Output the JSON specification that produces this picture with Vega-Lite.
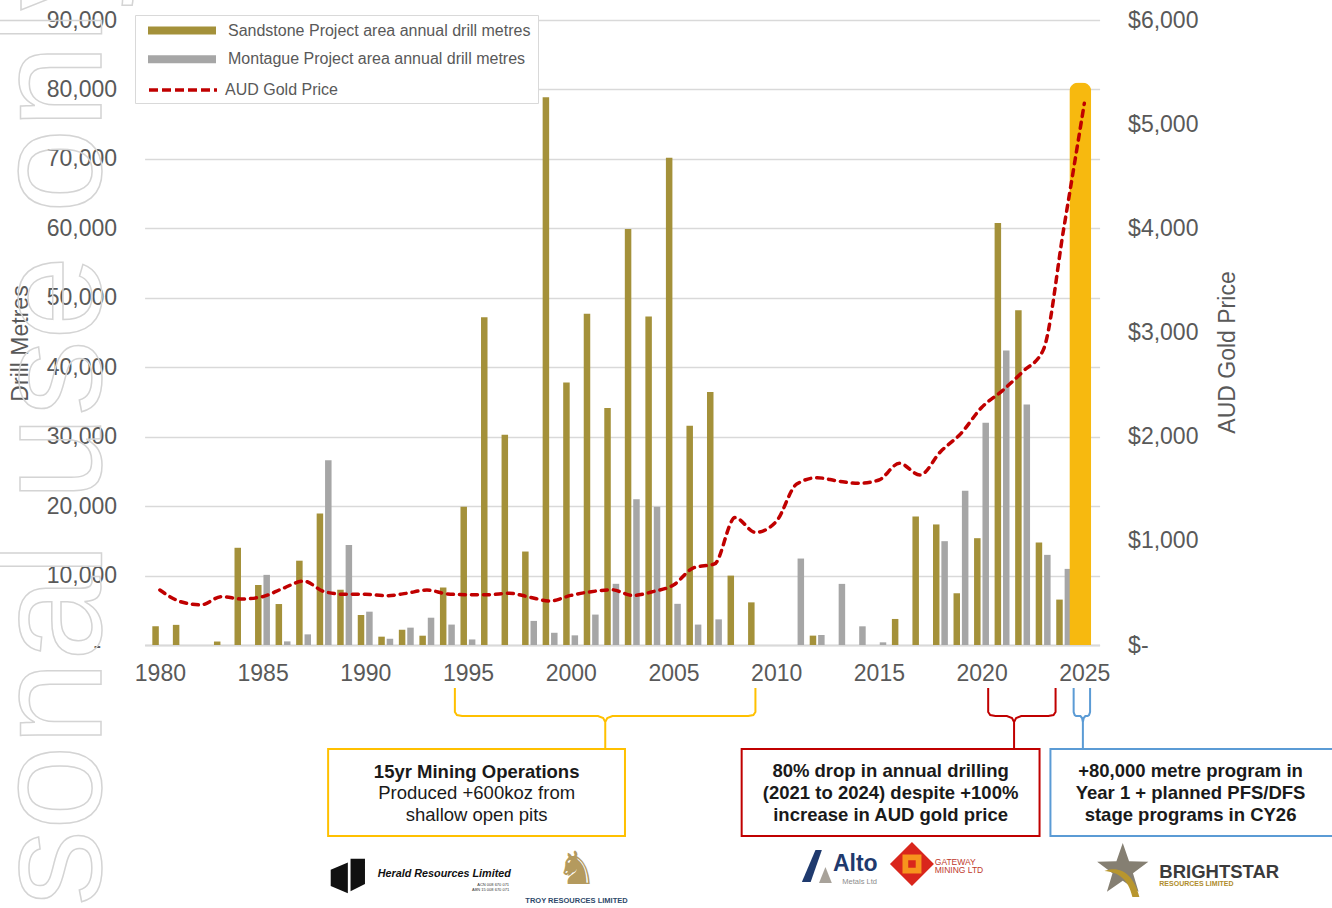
{
  "$schema": "https://vega.github.io/schema/vega-lite/v6.json",
  "width": 955,
  "height": 625,
  "autosize": "none",
  "padding": {"left": 144.6, "top": 20, "right": 232.4, "bottom": 263},
  "background": "white",
  "config": {"font": "Liberation Sans", "view": {"stroke": null}},
  "datasets": {
    "sand": [{"yr":1980,"m":2700},{"yr":1981,"m":2900},{"yr":1983,"m":500},{"yr":1984,"m":14000},{"yr":1985,"m":8640},{"yr":1986,"m":5900},{"yr":1987,"m":12140},{"yr":1988,"m":18950},{"yr":1989,"m":7960},{"yr":1990,"m":4320},{"yr":1991,"m":1200},{"yr":1992,"m":2200},{"yr":1993,"m":1340},{"yr":1994,"m":8280},{"yr":1995,"m":19920},{"yr":1996,"m":47210},{"yr":1997,"m":30280},{"yr":1998,"m":13460},{"yr":1999,"m":78880},{"yr":2000,"m":37810},{"yr":2001,"m":47690},{"yr":2002,"m":34130},{"yr":2003,"m":59920},{"yr":2004,"m":47320},{"yr":2005,"m":70170},{"yr":2006,"m":31560},{"yr":2007,"m":36420},{"yr":2008,"m":9990},{"yr":2009,"m":6140},{"yr":2012,"m":1350},{"yr":2016,"m":3750},{"yr":2017,"m":18510},{"yr":2018,"m":17360},{"yr":2019,"m":7450},{"yr":2020,"m":15380},{"yr":2021,"m":60770},{"yr":2022,"m":48220},{"yr":2023,"m":14760},{"yr":2024,"m":6540}],
    "mont": [{"yr":1985,"m":10100},{"yr":1986,"m":520},{"yr":1987,"m":1530},{"yr":1988,"m":26600},{"yr":1989,"m":14400},{"yr":1990,"m":4800},{"yr":1991,"m":900},{"yr":1992,"m":2500},{"yr":1993,"m":3930},{"yr":1994,"m":2940},{"yr":1995,"m":800},{"yr":1998,"m":3470},{"yr":1999,"m":1760},{"yr":2000,"m":1390},{"yr":2001,"m":4380},{"yr":2002,"m":8810},{"yr":2003,"m":20990},{"yr":2004,"m":19920},{"yr":2005,"m":5930},{"yr":2006,"m":2940},{"yr":2007,"m":3690},{"yr":2011,"m":12450},{"yr":2012,"m":1440},{"yr":2013,"m":8800},{"yr":2014,"m":2690},{"yr":2015,"m":385},{"yr":2018,"m":14950},{"yr":2019,"m":22210},{"yr":2020,"m":32020},{"yr":2021,"m":42400},{"yr":2022,"m":34620},{"yr":2023,"m":12980},{"yr":2024,"m":10960}],
    "plan": [{"yr":2025,"m":81000}],
    "gold": [{"yr":1980,"p":528},{"yr":1981,"p":416},{"yr":1982,"p":385},{"yr":1983,"p":464},{"yr":1984,"p":442},{"yr":1985,"p":464},{"yr":1986,"p":544},{"yr":1987,"p":614},{"yr":1988,"p":512},{"yr":1989,"p":487},{"yr":1990,"p":487},{"yr":1991,"p":473},{"yr":1992,"p":496},{"yr":1993,"p":528},{"yr":1994,"p":490},{"yr":1995,"p":483},{"yr":1996,"p":483},{"yr":1997,"p":497},{"yr":1998,"p":459},{"yr":1999,"p":422},{"yr":2000,"p":476},{"yr":2001,"p":512},{"yr":2002,"p":530},{"yr":2003,"p":476},{"yr":2004,"p":512},{"yr":2005,"p":576},{"yr":2006,"p":743},{"yr":2007,"p":778},{"yr":2008,"p":1223},{"yr":2009,"p":1081},{"yr":2010,"p":1185},{"yr":2011,"p":1545},{"yr":2012,"p":1606},{"yr":2013,"p":1574},{"yr":2014,"p":1552},{"yr":2015,"p":1584},{"yr":2016,"p":1744},{"yr":2017,"p":1632},{"yr":2018,"p":1856},{"yr":2019,"p":2032},{"yr":2020,"p":2280},{"yr":2021,"p":2440},{"yr":2022,"p":2624},{"yr":2023,"p":2832},{"yr":2024,"p":4000},{"yr":2025,"p":5200}],
    "box": [
      {"b":"a","yr":1988.19,"yr2":2002.64,"m":-14976,"m2":-27504},
      {"b":"b","yr":2008.32,"yr2":2022.82,"m":-14976,"m2":-27504},
      {"b":"c","yr":2023.35,"yr2":2040,"m":-14976,"m2":-27504}
    ],
    "brk": [
      {"b":"a","o":1,"yr":1994.36,"m":-6192},{"b":"a","o":2,"yr":1994.36,"m":-9648},{"b":"a","o":3,"yr":1994.46,"m":-10080},{"b":"a","o":4,"yr":1994.71,"m":-10224},{"b":"a","o":5,"yr":2001.33,"m":-10224},{"b":"a","o":6,"yr":2001.58,"m":-10512},{"b":"a","o":7,"yr":2001.68,"m":-11088},{"b":"a","o":8,"yr":2001.68,"m":-14832},{"b":"a","o":9,"yr":2001.68,"m":-11088},{"b":"a","o":10,"yr":2001.78,"m":-10512},{"b":"a","o":11,"yr":2002.03,"m":-10224},{"b":"a","o":12,"yr":2008.64,"m":-10224},{"b":"a","o":13,"yr":2008.89,"m":-10080},{"b":"a","o":14,"yr":2008.99,"m":-9648},{"b":"a","o":15,"yr":2008.99,"m":-6192},
      {"b":"b","o":1,"yr":2020.32,"m":-6192},{"b":"b","o":2,"yr":2020.32,"m":-9648},{"b":"b","o":3,"yr":2020.42,"m":-10080},{"b":"b","o":4,"yr":2020.67,"m":-10224},{"b":"b","o":5,"yr":2021.23,"m":-10224},{"b":"b","o":6,"yr":2021.48,"m":-10512},{"b":"b","o":7,"yr":2021.58,"m":-11088},{"b":"b","o":8,"yr":2021.58,"m":-14832},{"b":"b","o":9,"yr":2021.58,"m":-11088},{"b":"b","o":10,"yr":2021.68,"m":-10512},{"b":"b","o":11,"yr":2021.93,"m":-10224},{"b":"b","o":12,"yr":2023.25,"m":-10224},{"b":"b","o":13,"yr":2023.50,"m":-10080},{"b":"b","o":14,"yr":2023.60,"m":-9648},{"b":"b","o":15,"yr":2023.60,"m":-6192},
      {"b":"c","o":1,"yr":2024.48,"m":-6192},{"b":"c","o":2,"yr":2024.48,"m":-9648},{"b":"c","o":3,"yr":2024.53,"m":-10080},{"b":"c","o":4,"yr":2024.60,"m":-10224},{"b":"c","o":5,"yr":2024.81,"m":-10224},{"b":"c","o":6,"yr":2024.89,"m":-10512},{"b":"c","o":7,"yr":2024.93,"m":-11088},{"b":"c","o":8,"yr":2024.93,"m":-14832},{"b":"c","o":9,"yr":2024.93,"m":-11088},{"b":"c","o":10,"yr":2024.97,"m":-10512},{"b":"c","o":11,"yr":2025.05,"m":-10224},{"b":"c","o":12,"yr":2025.16,"m":-10224},{"b":"c","o":13,"yr":2025.23,"m":-10080},{"b":"c","o":14,"yr":2025.28,"m":-9648},{"b":"c","o":15,"yr":2025.28,"m":-6192}
    ],
    "boxb": [
      {"yr":1995.42,"m":-18216,"t":"15yr Mining Operations"},
      {"yr":2015.57,"m":-18144,"t":"80% drop in annual drilling"},
      {"yr":2015.57,"m":-21312,"t":"(2021 to 2024) despite +100%"},
      {"yr":2015.57,"m":-24480,"t":"increase in AUD gold price"},
      {"yr":2030.17,"m":-18144,"t":"+80,000 metre program in"},
      {"yr":2030.17,"m":-21312,"t":"Year 1 + planned PFS/DFS"},
      {"yr":2030.17,"m":-24480,"t":"stage programs in CY26"}
    ],
    "boxn": [
      {"yr":1995.42,"m":-21312,"t":"Produced +600koz from"},
      {"yr":1995.42,"m":-24480,"t":"shallow open pits"}
    ],
    "logo": [
      {"k":"herald","yr":1989.15,"m":-33264},
      {"k":"altoA","yr":2012.03,"m":-31824},
      {"k":"altoB","yr":2012.32,"m":-33120},
      {"k":"gw","yr":2016.61,"m":-31536},
      {"k":"star","yr":2026.87,"m":-32400},
      {"k":"swoosh","yr":2026.95,"m":-33400}
    ],
    "ltxt": [
      {"k":"herald","yr":1990.60,"m":-32976,"t":"Herald Resources Limited"},
      {"k":"acn","yr":1997.0,"m":-34560,"t":"ACN 008 670 071"},
      {"k":"acn","yr":1997.0,"m":-35280,"t":"ABN 15 008 670 071"},
      {"k":"horse","yr":2000.28,"m":-32400,"t":"♞"},
      {"k":"troy","yr":2000.28,"m":-36864,"t":"TROY RESOURCES LIMITED"},
      {"k":"alto","yr":2012.76,"m":-31536,"t":"Alto"},
      {"k":"metals","yr":2014.06,"m":-34128,"t":"Metals Ltd"},
      {"k":"gwt","yr":2017.72,"m":-31248,"t":"GATEWAY"},
      {"k":"gwt","yr":2017.72,"m":-32400,"t":"MINING LTD"},
      {"k":"bs","yr":2028.65,"m":-32688,"t":"BRIGHTSTAR"},
      {"k":"rl","yr":2028.65,"m":-34416,"t":"RESOURCES LIMITED"}
    ],
    "wm": [{"yr":1977.11,"m":-108144,"t":"For personal use only"}]
  },
  "layer": [
    {
      "layer": [
        {
          "data": {"name": "sand"},
          "mark": {"type": "bar", "orient": "vertical", "width": 6.5, "xOffset": -4.3},
          "encoding": {
            "x": {"field": "yr", "type": "quantitative", "scale": {"domain": [1979.5, 2025.5], "nice": false, "zero": false},
              "axis": {"title": null, "values": [1980,1985,1990,1995,2000,2005,2010,2015,2020,2025], "format": "d", "labelFontSize": 23, "labelColor": "#595959", "labelPadding": 17, "labelFlush": false, "labelOverlap": false, "ticks": false, "grid": false, "domainColor": "#d9d9d9", "domainWidth": 2}},
            "y": {"field": "m", "type": "quantitative", "scale": {"domain": [0, 90000], "nice": false, "zero": false},
              "axis": {"title": "Drill Metres", "values": [0,10000,20000,30000,40000,50000,60000,70000,80000,90000], "labelExpr": "datum.value == 0 ? '-' : format(datum.value, ',')", "labelFontSize": 23, "labelColor": "#595959", "labelPadding": {"condition": {"test": "datum.value == 0", "value": 44}, "value": 28}, "ticks": false, "domain": false, "grid": true, "gridColor": "#d9d9d9", "gridWidth": 1.5, "titleFontSize": 23, "titleFontWeight": "normal", "titleColor": "#595959", "titleAngle": 270, "titleX": -117.6, "titleY": 323, "titleBaseline": "alphabetic", "titleAlign": "center"}},
            "color": {"datum": "Sandstone Project area annual drill metres", "type": "nominal",
              "scale": {"domain": ["Sandstone Project area annual drill metres", "Montague Project area annual drill metres", " "], "range": ["#A4913A", "#A6A6A6", "transparent"]},
              "legend": {"orient": "none", "legendX": -9.6, "legendY": -5, "title": null, "symbolType": "M-4,-0.47H4V0.47H-4Z", "symbolSize": 289, "symbolOffset": 31.5, "symbolStrokeWidth": 0, "symbolOpacity": 1, "labelFontSize": 16, "labelColor": "#595959", "labelOffset": 37.5, "labelLimit": 500, "padding": 7, "rowPadding": 11.75, "fillColor": "white", "strokeColor": "#d9d9d9"}}
          }
        },
        {
          "data": {"name": "mont"},
          "mark": {"type": "bar", "orient": "vertical", "width": 6.5, "xOffset": 4.1},
          "encoding": {
            "x": {"field": "yr", "type": "quantitative"},
            "y": {"field": "m", "type": "quantitative"},
            "color": {"datum": "Montague Project area annual drill metres", "type": "nominal"}
          }
        },
        {
          "data": {"name": "plan"},
          "mark": {"type": "bar", "orient": "vertical", "width": 22, "xOffset": -4, "color": "#F7B90F", "cornerRadiusTopLeft": 9, "cornerRadiusTopRight": 9},
          "encoding": {
            "x": {"field": "yr", "type": "quantitative"},
            "y": {"field": "m", "type": "quantitative"}
          }
        },
        {
          "data": {"name": "box"},
          "mark": {"type": "rect", "fill": "white", "strokeWidth": 2},
          "encoding": {
            "x": {"field": "yr", "type": "quantitative"},
            "x2": {"field": "yr2"},
            "y": {"field": "m", "type": "quantitative"},
            "y2": {"field": "m2"},
            "stroke": {"field": "b", "type": "nominal", "scale": {"domain": ["a", "b", "c"], "range": ["#FFC000", "#C00000", "#5B9BD5"]}, "legend": null}
          }
        },
        {
          "data": {"name": "brk"},
          "mark": {"type": "line", "strokeWidth": 2, "interpolate": "linear"},
          "encoding": {
            "x": {"field": "yr", "type": "quantitative"},
            "y": {"field": "m", "type": "quantitative"},
            "stroke": {"field": "b", "type": "nominal", "legend": null},
            "order": {"field": "o", "type": "quantitative"}
          }
        },
        {
          "data": {"name": "boxb"},
          "mark": {"type": "text", "fontSize": 18.5, "fontWeight": "bold", "color": "#1a1a1a", "align": "center", "baseline": "middle"},
          "encoding": {
            "x": {"field": "yr", "type": "quantitative"},
            "y": {"field": "m", "type": "quantitative"},
            "text": {"field": "t"}
          }
        },
        {
          "data": {"name": "boxn"},
          "mark": {"type": "text", "fontSize": 18.5, "color": "#1a1a1a", "align": "center", "baseline": "middle"},
          "encoding": {
            "x": {"field": "yr", "type": "quantitative"},
            "y": {"field": "m", "type": "quantitative"},
            "text": {"field": "t"}
          }
        },
        {
          "data": {"name": "logo"},
          "transform": [{"filter": "datum.k == 'herald'"}],
          "mark": {"type": "point", "filled": true, "opacity": 1, "color": "#111111", "size": 1300, "shape": "M-0.95,-0.35L0.0,-0.75L0.0,0.95L-0.95,0.55Z M0.15,-0.95L0.95,-0.95L0.95,0.45L0.15,0.85Z"},
          "encoding": {"x": {"field": "yr", "type": "quantitative"}, "y": {"field": "m", "type": "quantitative"}}
        },
        {
          "data": {"name": "logo"},
          "transform": [{"filter": "datum.k == 'altoA'"}],
          "mark": {"type": "point", "filled": true, "opacity": 1, "color": "#1F3A6E", "size": 1024, "shape": "M-1,1L-0.15,-1L0.25,-1L-0.45,1Z"},
          "encoding": {"x": {"field": "yr", "type": "quantitative"}, "y": {"field": "m", "type": "quantitative"}}
        },
        {
          "data": {"name": "logo"},
          "transform": [{"filter": "datum.k == 'altoB'"}],
          "mark": {"type": "point", "filled": true, "opacity": 1, "color": "#A8A29A", "size": 256, "shape": "M-0.6,1L0.2,-1L1,1Z"},
          "encoding": {"x": {"field": "yr", "type": "quantitative"}, "y": {"field": "m", "type": "quantitative"}}
        },
        {
          "data": {"name": "logo"},
          "transform": [{"filter": "datum.k == 'gw'"}],
          "mark": {"type": "point", "filled": true, "opacity": 1, "color": "#D9261C", "size": 1936, "shape": "M0,-1L1,0L0,1L-1,0Z"},
          "encoding": {"x": {"field": "yr", "type": "quantitative"}, "y": {"field": "m", "type": "quantitative"}}
        },
        {
          "data": {"name": "logo"},
          "transform": [{"filter": "datum.k == 'gw'"}],
          "mark": {"type": "point", "filled": true, "opacity": 1, "color": "#F7941D", "size": 360, "shape": "square"},
          "encoding": {"x": {"field": "yr", "type": "quantitative"}, "y": {"field": "m", "type": "quantitative"}}
        },
        {
          "data": {"name": "logo"},
          "transform": [{"filter": "datum.k == 'gw'"}],
          "mark": {"type": "point", "filled": true, "opacity": 1, "color": "#D9261C", "size": 56, "shape": "square"},
          "encoding": {"x": {"field": "yr", "type": "quantitative"}, "y": {"field": "m", "type": "quantitative"}}
        },
        {
          "data": {"name": "logo"},
          "transform": [{"filter": "datum.k == 'star'"}],
          "mark": {"type": "point", "filled": true, "opacity": 1, "color": "#857F72", "size": 2900, "shape": "M0,-1L0.235,-0.324L0.951,-0.309L0.38,0.124L0.588,0.809L0,0.4L-0.588,0.809L-0.38,0.124L-0.951,-0.309L-0.235,-0.324Z"},
          "encoding": {"x": {"field": "yr", "type": "quantitative"}, "y": {"field": "m", "type": "quantitative"}}
        },
        {
          "data": {"name": "logo"},
          "transform": [{"filter": "datum.k == 'swoosh'"}],
          "mark": {"type": "point", "filled": true, "opacity": 1, "color": "#B8962E", "size": 1600, "shape": "M-1,-0.3C-0.2,-0.6 0.5,-0.1 0.75,1L0.4,1C0.2,0.1 -0.3,-0.25 -1,-0.3Z"},
          "encoding": {"x": {"field": "yr", "type": "quantitative"}, "y": {"field": "m", "type": "quantitative"}}
        },
        {
          "data": {"name": "ltxt"},
          "transform": [{"filter": "datum.k == 'herald'"}],
          "mark": {"type": "text", "fontSize": 10.8, "fontWeight": "bold", "fontStyle": "italic", "color": "#111111", "align": "left", "baseline": "middle"},
          "encoding": {"x": {"field": "yr", "type": "quantitative"}, "y": {"field": "m", "type": "quantitative"}, "text": {"field": "t"}}
        },
        {
          "data": {"name": "ltxt"},
          "transform": [{"filter": "datum.k == 'acn'"}],
          "mark": {"type": "text", "fontSize": 4, "color": "#333333", "align": "right", "baseline": "middle"},
          "encoding": {"x": {"field": "yr", "type": "quantitative"}, "y": {"field": "m", "type": "quantitative"}, "text": {"field": "t"}}
        },
        {
          "data": {"name": "ltxt"},
          "transform": [{"filter": "datum.k == 'horse'"}],
          "mark": {"type": "text", "font": "DejaVu Sans", "fontSize": 46, "color": "#B49A5E", "align": "center", "baseline": "middle"},
          "encoding": {"x": {"field": "yr", "type": "quantitative"}, "y": {"field": "m", "type": "quantitative"}, "text": {"field": "t"}}
        },
        {
          "data": {"name": "ltxt"},
          "transform": [{"filter": "datum.k == 'troy'"}],
          "mark": {"type": "text", "fontSize": 7.5, "fontWeight": "bold", "color": "#2E4A6B", "align": "center", "baseline": "middle"},
          "encoding": {"x": {"field": "yr", "type": "quantitative"}, "y": {"field": "m", "type": "quantitative"}, "text": {"field": "t"}}
        },
        {
          "data": {"name": "ltxt"},
          "transform": [{"filter": "datum.k == 'alto'"}],
          "mark": {"type": "text", "fontSize": 23, "fontWeight": "bold", "color": "#1F3A6E", "align": "left", "baseline": "middle"},
          "encoding": {"x": {"field": "yr", "type": "quantitative"}, "y": {"field": "m", "type": "quantitative"}, "text": {"field": "t"}}
        },
        {
          "data": {"name": "ltxt"},
          "transform": [{"filter": "datum.k == 'metals'"}],
          "mark": {"type": "text", "fontSize": 7.5, "color": "#8C8C8C", "align": "center", "baseline": "middle"},
          "encoding": {"x": {"field": "yr", "type": "quantitative"}, "y": {"field": "m", "type": "quantitative"}, "text": {"field": "t"}}
        },
        {
          "data": {"name": "ltxt"},
          "transform": [{"filter": "datum.k == 'gwt'"}],
          "mark": {"type": "text", "fontSize": 8.5, "color": "#C0392B", "align": "left", "baseline": "middle"},
          "encoding": {"x": {"field": "yr", "type": "quantitative"}, "y": {"field": "m", "type": "quantitative"}, "text": {"field": "t"}}
        },
        {
          "data": {"name": "ltxt"},
          "transform": [{"filter": "datum.k == 'bs'"}],
          "mark": {"type": "text", "fontSize": 18.5, "fontWeight": "bold", "color": "#3B3B3B", "align": "left", "baseline": "middle"},
          "encoding": {"x": {"field": "yr", "type": "quantitative"}, "y": {"field": "m", "type": "quantitative"}, "text": {"field": "t"}}
        },
        {
          "data": {"name": "ltxt"},
          "transform": [{"filter": "datum.k == 'rl'"}],
          "mark": {"type": "text", "fontSize": 7, "fontWeight": "bold", "color": "#B08D2C", "align": "left", "baseline": "middle"},
          "encoding": {"x": {"field": "yr", "type": "quantitative"}, "y": {"field": "m", "type": "quantitative"}, "text": {"field": "t"}}
        },
        {
          "data": {"name": "wm"},
          "mark": {"type": "text", "fontSize": 152, "angle": 270, "align": "left", "baseline": "alphabetic", "fill": "transparent", "stroke": "#d4d4d4", "strokeWidth": 1.5},
          "encoding": {"x": {"field": "yr", "type": "quantitative"}, "y": {"field": "m", "type": "quantitative"}, "text": {"field": "t"}}
        }
      ]
    },
    {
      "data": {"name": "gold"},
      "mark": {"type": "line", "strokeWidth": 3.5, "strokeDash": [6, 6], "strokeCap": "round", "interpolate": "monotone"},
      "encoding": {
        "x": {"field": "yr", "type": "quantitative"},
        "y": {"field": "p", "type": "quantitative", "scale": {"domain": [0, 6000], "nice": false, "zero": false},
          "axis": {"orient": "right", "title": "AUD Gold Price", "values": [0,1000,2000,3000,4000,5000,6000], "labelExpr": "datum.value == 0 ? '$-' : '$' + format(datum.value, ',')", "labelFontSize": 23, "labelColor": "#595959", "labelPadding": 28, "ticks": false, "domain": false, "grid": false, "titleFontSize": 23, "titleFontWeight": "normal", "titleColor": "#595959", "titleAngle": 270, "titleX": 134.6, "titleY": 332, "titleBaseline": "alphabetic", "titleAlign": "center"}},
        "color": {"datum": "AUD Gold Price", "type": "nominal", "scale": {"range": ["#C00000"]},
          "legend": {"orient": "none", "legendX": 2.4, "legendY": 34, "title": null, "symbolType": "stroke", "symbolSize": 4624, "symbolStrokeWidth": 3.5, "symbolDash": [9, 4], "labelFontSize": 16, "labelColor": "#595959", "labelOffset": 6, "padding": 0}}
      }
    }
  ],
  "resolve": {"scale": {"y": "independent", "color": "independent"}}
}
